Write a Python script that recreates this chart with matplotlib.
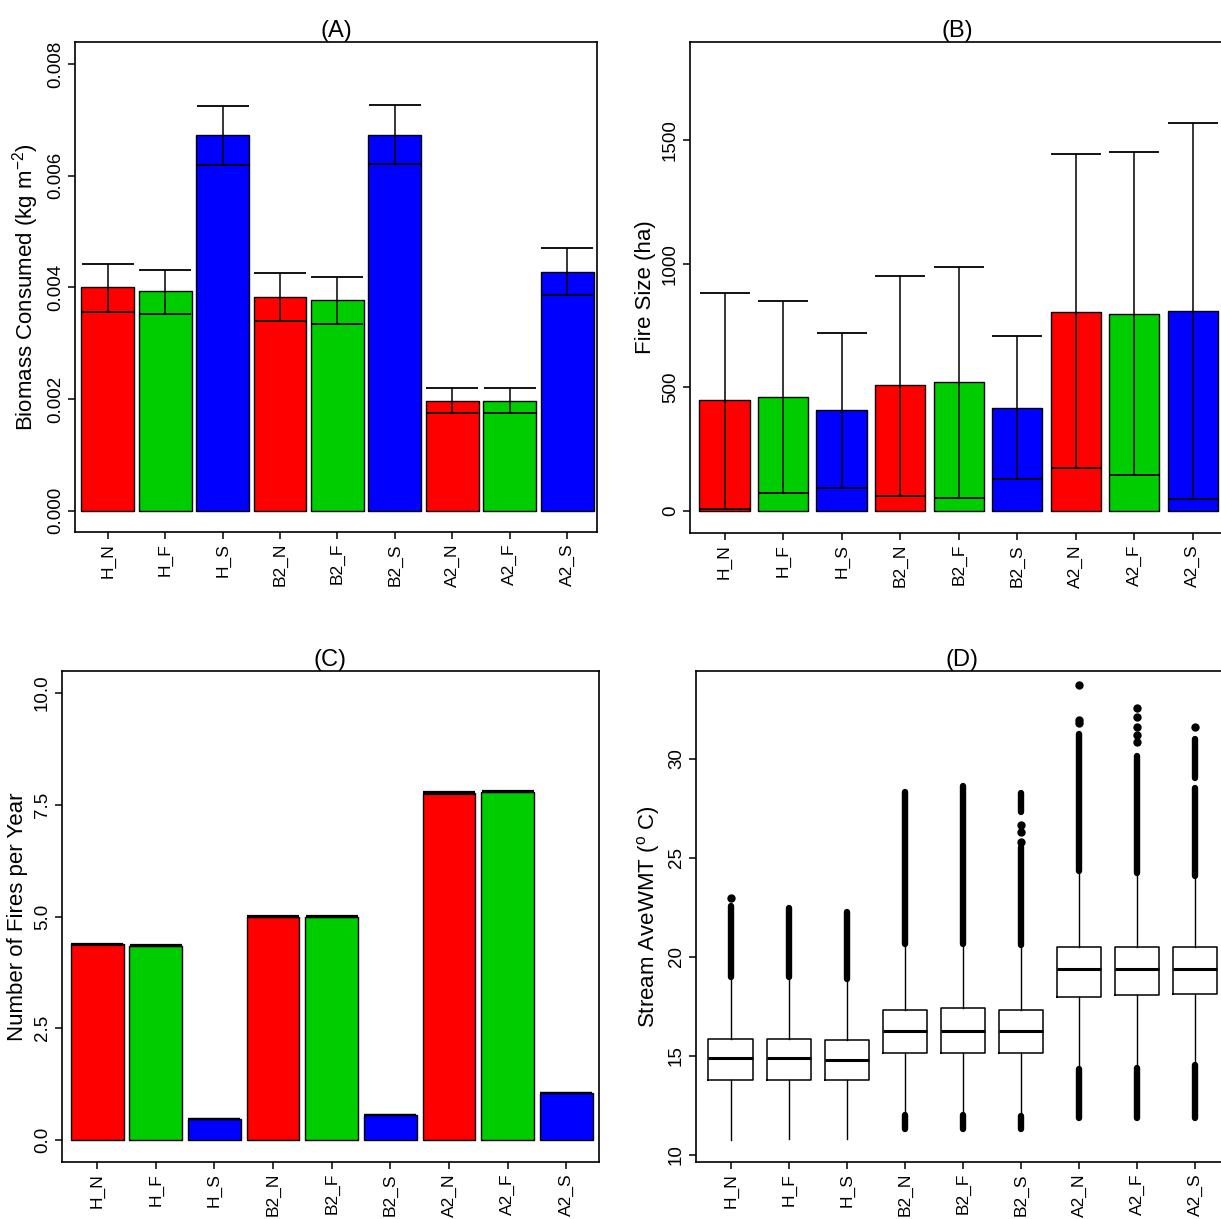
import numpy as np
import matplotlib
matplotlib.use('Agg')
from matplotlib import pyplot as plt

plt.rcParams['font.family'] = ['Liberation Sans', 'DejaVu Sans']
plt.rcParams['mathtext.fontset'] = 'custom'
plt.rcParams['mathtext.rm'] = 'Liberation Sans'
plt.rcParams['mathtext.it'] = 'Liberation Sans'
plt.rcParams['mathtext.default'] = 'regular'

# ---- data ----
cats = ['H_N', 'H_F', 'H_S', 'B2_N', 'B2_F', 'B2_S', 'A2_N', 'A2_F', 'A2_S']

# (A) biomass consumed, kg m-2
bio_mean = [0.00400, 0.00393, 0.00674, 0.00383, 0.00377, 0.00674, 0.00197, 0.00197, 0.00428]
bio_low = [0.00356, 0.00353, 0.00620, 0.00340, 0.00335, 0.00622, 0.00175, 0.00175, 0.00386]
bio_up = [0.00442, 0.00431, 0.00725, 0.00425, 0.00419, 0.00727, 0.00219, 0.00219, 0.00470]

# (B) fire size, ha
fs_top = [446, 459, 408, 509, 522, 415, 804, 797, 810]
fs_low = [8, 71, 92, 60, 49, 127, 174, 142, 46]
fs_up = [881, 850, 720, 951, 987, 709, 1443, 1454, 1568]

# (C) number of fires per year
nf = [4.38, 4.35, 0.48, 5.00, 5.00, 0.55, 7.76, 7.79, 1.05]
nf_err = [0.015, 0.015, 0.0, 0.01, 0.01, 0.0, 0.02, 0.015, 0.0]

# (D) stream temperature boxplots
t_whislo = [10.72, 10.80, 10.80, 12.00, 12.00, 12.00, 14.32, 14.37, 14.54]
t_q1 = [13.77, 13.77, 13.77, 15.12, 15.12, 15.12, 17.95, 18.04, 18.13]
t_med = [14.88, 14.88, 14.78, 16.23, 16.23, 16.23, 19.37, 19.37, 19.37]
t_q3 = [15.86, 15.86, 15.77, 17.31, 17.40, 17.31, 20.47, 20.47, 20.47]
t_whishi = [18.95, 18.95, 18.85, 20.65, 20.65, 20.57, 24.34, 24.25, 24.08]
# dense runs of outliers (low, high) and single outlier points
t_runs = [
    [(18.95, 22.54)],
    [(18.95, 22.45)],
    [(18.85, 22.28)],
    [(20.65, 28.33), (11.32, 12.00)],
    [(20.65, 28.62), (11.32, 12.00)],
    [(20.57, 25.54), (27.33, 28.28), (11.32, 11.95)],
    [(24.34, 31.27), (11.83, 14.32)],
    [(24.25, 30.16), (11.83, 14.37)],
    [(24.08, 28.54), (29.05, 31.00), (11.83, 14.54)],
]
t_points = [
    [22.97],
    [],
    [],
    [],
    [],
    [25.79, 26.31, 26.65],
    [31.79, 31.96, 33.70],
    [30.85, 31.19, 31.62, 32.13, 32.56],
    [31.58],
]

fill = {'N': '#FF0000', 'F': '#00CD00', 'S': '#0000FF'}
colors = [fill[c[-1]] for c in cats]
x = np.arange(len(cats))

W, H = 1221, 1219
fig = plt.figure(figsize=(W / 100, H / 100), dpi=100)


def px_axes(l, r, t, b):
    return fig.add_axes([l / W, 1 - b / H, (r - l) / W, (b - t) / H])


def style(ax, title, ylabel, xlim, ylim, yticks, ylabs):
    ax.set_xlim(*xlim)
    ax.set_ylim(*ylim)
    ax.set_xticks(x)
    ax.set_xticklabels(cats, rotation=90, fontsize=12.5)
    ax.set_yticks(yticks)
    ax.set_yticklabels(ylabs, rotation=90, va='center', fontsize=13.5)
    ax.tick_params(length=5, width=1.1, pad=3)
    for s in ax.spines.values():
        s.set_linewidth(1.2)
    ax.set_title(title, fontsize=17, pad=1)
    ax.set_ylabel(ylabel, fontsize=16, labelpad=4)


# (A)
axA = px_axes(75, 597, 42, 532)
axA.bar(x, bio_mean, width=0.92, color=colors, edgecolor='black', linewidth=1)
bm = np.array(bio_mean)
axA.errorbar(x, bm, yerr=[bm - np.array(bio_low), np.array(bio_up) - bm],
             fmt='none', ecolor='black', elinewidth=1.1, capsize=19, capthick=1.3)
style(axA, '(A)', 'Biomass Consumed (kg m$^{-2}$)', (-0.57, 8.52), (-0.000385, 0.0084),
      [0, 0.002, 0.004, 0.006, 0.008], ['0.000', '0.002', '0.004', '0.006', '0.008'])

# (B)
axB = px_axes(690, 1225, 42, 533)
axB.bar(x, fs_top, width=0.86, color=colors, edgecolor='black', linewidth=1)
ft = np.array(fs_top)
axB.errorbar(x, ft, yerr=[ft - np.array(fs_low), np.array(fs_up) - ft],
             fmt='none', ecolor='black', elinewidth=1.1, capsize=18, capthick=1.3)
style(axB, '(B)', 'Fire Size (ha)', (-0.59, 8.55), (-91, 1898),
      [0, 500, 1000, 1500], ['0', '500', '1000', '1500'])

# (C)
axC = px_axes(62, 599, 671, 1162)
axC.bar(x, nf, width=0.9, color=colors, edgecolor='black', linewidth=1)
axC.errorbar(x, nf, yerr=nf_err, fmt='none', ecolor='black', elinewidth=1,
             capsize=19, capthick=1.6)
style(axC, '(C)', 'Number of Fires per Year', (-0.6, 8.56), (-0.49, 10.49),
      [0, 2.5, 5, 7.5, 10], ['0.0', '2.5', '5.0', '7.5', '10.0'])

# (D)
axD = px_axes(696, 1227, 671, 1162)
stats = []
for i, c in enumerate(cats):
    stats.append({'label': c, 'whislo': t_whislo[i], 'q1': t_q1[i], 'med': t_med[i],
                  'q3': t_q3[i], 'whishi': t_whishi[i], 'fliers': []})
axD.bxp(stats, positions=x, widths=0.77, showfliers=False, showcaps=False,
        boxprops=dict(linewidth=1.1, color='black'),
        whiskerprops=dict(linewidth=1.0, color='black'),
        medianprops=dict(linewidth=2.2, color='black'))
for i in range(len(cats)):
    for lo, hi in t_runs[i]:
        axD.plot([x[i], x[i]], [lo, hi], color='black', lw=4.6, solid_capstyle='round')
    if t_points[i]:
        axD.plot([x[i]] * len(t_points[i]), t_points[i], 'o', color='black', ms=5)
style(axD, '(D)', 'Stream AveWMT ($^{o}$ C)', (-0.6, 8.55), (9.63, 34.43),
      [10, 15, 20, 25, 30], ['10', '15', '20', '25', '30'])

fig.savefig('out.png', dpi=100)
